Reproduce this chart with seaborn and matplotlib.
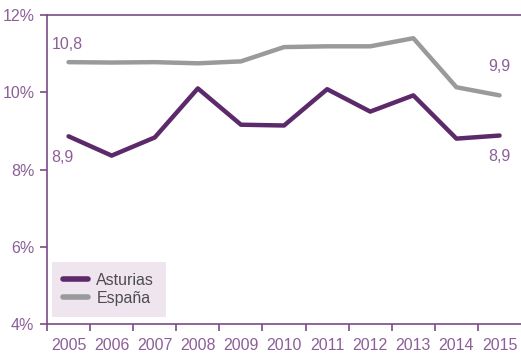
import pandas as pd
import matplotlib.pyplot as plt
import matplotlib
import seaborn as sns

years = list(range(2005, 2016))
asturias = [8.86, 8.36, 8.83, 10.1, 9.16, 9.14, 10.08, 9.5, 9.92, 8.8, 8.88]
espana = [10.78, 10.77, 10.78, 10.75, 10.8, 11.17, 11.19, 11.19, 11.4, 10.13, 9.92]

purple = '#5c2a6a'
grey = '#999a9c'
axcol = '#7a4a88'
txtcol = '#8c5f98'

df = pd.DataFrame({'year': years * 2,
                   'valor': asturias + espana,
                   'serie': ['Asturias'] * len(years) + ['España'] * len(years)})

sns.set_style('white')
matplotlib.rcParams['font.family'] = ['Liberation Sans', 'DejaVu Sans']
matplotlib.rcParams['font.size'] = 11.5

fig = plt.figure(figsize=(5.21, 3.57), dpi=100)
ax = fig.add_axes([0.0902, 0.0924, 0.91, 0.8655])

sns.lineplot(data=df, x='year', y='valor', hue='serie',
             palette={'Asturias': purple, 'España': grey},
             linewidth=3.2, ax=ax, legend=True)

ax.set_xlim(2004.5, 2015.5)
ax.set_ylim(4, 12)
ax.set_yticks([4, 6, 8, 10, 12])
ax.set_yticklabels([f'{v}%' for v in [4, 6, 8, 10, 12]])
ax.set_xticks([y - 0.5 for y in years])
ax.set_xticklabels([])
ax.set_xticks(years, minor=True)
ax.set_xticklabels([str(y) for y in years], minor=True)
ax.tick_params(axis='x', which='major', length=5, width=1.2, color=axcol, direction='out', bottom=True)
ax.tick_params(axis='x', which='minor', length=0, pad=10, labelcolor=txtcol, labelsize=11.5, bottom=True)
ax.tick_params(axis='y', length=5, width=1.2, color=axcol, labelcolor=txtcol, labelsize=11.5, left=True, pad=4)

for s in ['left', 'bottom', 'top']:
    ax.spines[s].set_color(axcol)
    ax.spines[s].set_linewidth(1.2)
ax.spines['right'].set_visible(False)
ax.set_xlabel('')
ax.set_ylabel('')

ax.text(2004.6, espana[0] + 0.45, '10,8', color=txtcol, fontsize=11.5, ha='left', va='center')
ax.text(2004.6, asturias[0] - 0.55, '8,9', color=txtcol, fontsize=11.5, ha='left', va='center')
ax.text(2015.0, espana[-1] + 0.75, '9,9', color=txtcol, fontsize=11.5, ha='center', va='center')
ax.text(2015.0, asturias[-1] - 0.55, '8,9', color=txtcol, fontsize=11.5, ha='center', va='center')

leg = ax.legend(loc='lower left', bbox_to_anchor=(0.01, 0.022), frameon=True, fancybox=False,
                facecolor='#efe5ef', edgecolor='none', framealpha=1, fontsize=11.5,
                handlelength=1.6, handletextpad=0.5, borderpad=0.7, labelspacing=0.2,
                borderaxespad=0)
for t in leg.get_texts():
    t.set_color('#4d4d4d')
for l in leg.get_lines():
    l.set_linewidth(4)

plt.savefig('out.png', dpi=100)
